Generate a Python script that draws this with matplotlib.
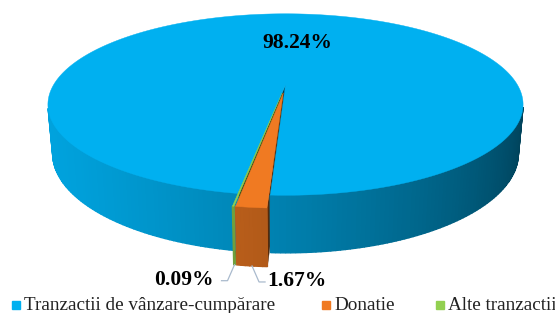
import numpy as np
import matplotlib.pyplot as plt
from matplotlib.patches import Polygon
from matplotlib.colors import to_rgb

# Data
categories = ['Tranzactii de vânzare-cumpărare', 'Donatie', 'Alte tranzactii']
shares = [98.24, 1.67, 0.09]
labels = ['98.24%', '1.67%', '0.09%']
colors = ['#00B0F0', '#F07A22', '#92D050']
explode = [0.0, 0.09, 0.09]

# Perspective view of the pie (camera looking down at the front)
elev = np.radians(21.9)
sn, cs = np.sin(elev), np.cos(elev)
dist, focal = 4.31, 1000.0
depth = 0.225
cx, cy = 285.5, 85.0
start = 260.7  # slices run clockwise from this angle
cam = np.array([0.0, -dist * cs, dist * sn])
light = np.array([-0.937, -0.351])


def project(X, Y, Z):
    d = dist + Y * cs - Z * sn
    return cx + focal * X / d, cy - focal * (Y * sn + Z * cs) / d, d


def shade(col, nx, ny):
    f = 0.62 + 0.3 * (nx * light[0] + ny * light[1])
    return tuple(np.clip(np.array(to_rgb(col)) * f, 0, 1))


fig = plt.figure(figsize=(5.55, 3.13), dpi=100)
ax = fig.add_axes([0, 0, 1, 1])
ax.set_xlim(0, 555)
ax.set_ylim(313, 0)
ax.axis('off')

faces = []
anchors = []
a = start
for share, col, e in zip(shares, colors, explode):
    span = share * 3.6
    lo, hi = np.radians(a - span), np.radians(a)
    a -= span
    mid = (lo + hi) / 2
    ox, oy = e * np.cos(mid), e * np.sin(mid)
    t = np.linspace(lo, hi, max(3, int(np.degrees(hi - lo)) + 2))
    X, Y = ox + np.cos(t), oy + np.sin(t)

    # top face
    px, py, d = project(np.r_[ox, X], np.r_[oy, Y], np.zeros(len(t) + 1))
    faces.append((d.min(), np.c_[px, py], col, 0.3))

    # outer wall
    for i in range(len(t) - 1):
        tm = (t[i] + t[i + 1]) / 2
        n = np.array([np.cos(tm), np.sin(tm), 0])
        p = np.array([ox + np.cos(tm), oy + np.sin(tm), -depth / 2])
        if n @ (cam - p) <= 0:
            continue
        qx = [X[i], X[i + 1], X[i + 1], X[i]]
        qy = [Y[i], Y[i + 1], Y[i + 1], Y[i]]
        qz = [0, 0, -depth, -depth]
        px, py, d = project(np.array(qx), np.array(qy), np.array(qz))
        faces.append((d.mean(), np.c_[px, py], shade(col, n[0], n[1]), 1.0))

    # cut faces
    for ang, sgn in [(lo, 1), (hi, -1)]:
        n = np.array([sgn * np.sin(ang), -sgn * np.cos(ang), 0])
        p = np.array([ox + 0.5 * np.cos(ang), oy + 0.5 * np.sin(ang), -depth / 2])
        if n @ (cam - p) <= 0:
            continue
        qx = np.array([ox, ox + np.cos(ang), ox + np.cos(ang), ox])
        qy = np.array([oy, oy + np.sin(ang), oy + np.sin(ang), oy])
        qz = np.array([0, 0, -depth, -depth])
        px, py, d = project(qx, qy, qz)
        faces.append((d.mean(), np.c_[px, py], shade(col, n[0], n[1]), 0.3))

    anchors.append((mid, ox, oy))

for _, xy, c, w in sorted(faces, key=lambda f: -f[0]):
    ax.add_patch(Polygon(xy, closed=True, facecolor=c, edgecolor=c, lw=w))

# labels
serif = 'Liberation Serif'
mid, ox, oy = anchors[0]
lx, ly, _ = project(0.55 * np.cos(mid), 0.55 * np.sin(mid), 0)
ax.text(lx, ly, labels[0], ha='center', va='center', fontsize=15.5,
        fontweight='bold', family=serif, color='black')

line_col = '#A9BACD'
for k, side, gap in [(1, 1, 2), (2, -1, 8)]:
    mid, ox, oy = anchors[k]
    bx, by, _ = project(ox + np.cos(mid), oy + np.sin(mid), -depth)
    ex, ey = bx + side * 7, by + 16
    fx = ex + side * 6
    ax.plot([bx, ex, fx], [by, ey, ey], color=line_col, lw=0.9)
    ax.text(fx + side * gap, ey - 1, labels[k], ha='left' if side > 0 else 'right',
            va='center', fontsize=15.5, fontweight='bold', family=serif, color='black')

# legend
leg_x = [16, 326, 440]
for x, name, col in zip(leg_x, categories, colors):
    ax.plot(x, 305, marker='s', ms=5.2, color=col, mec=col)
    ax.text(x + 8, 305, name, ha='left', va='center', fontsize=13.8,
            family=serif, color='#222222')

fig.savefig('out.png', dpi=100)
